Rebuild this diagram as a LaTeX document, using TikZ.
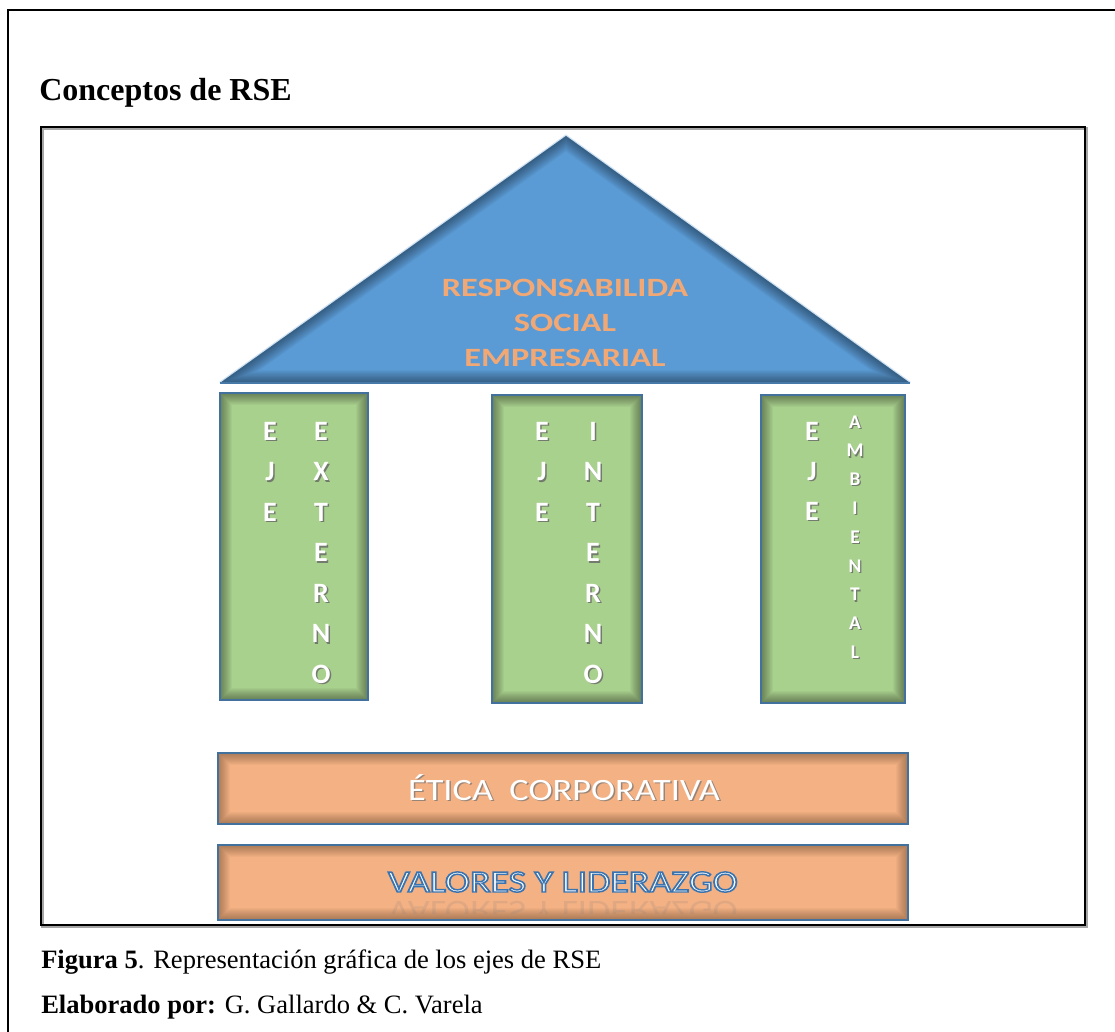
\documentclass[tikz,border=0pt]{standalone}
\usepackage{fontspec}
\usepackage{graphicx}
\setmainfont{Liberation Serif}
\newfontfamily\calfont{Carlito}
\definecolor{triblue}{HTML}{5B9BD5}
\definecolor{edgeblue}{HTML}{41719C}
\definecolor{pgreen}{HTML}{A9D18E}
\definecolor{borange}{HTML}{F4B183}
\definecolor{torange}{HTML}{F2A874}
\definecolor{valblue}{HTML}{3A74B0}
\tikzset{
  frameline/.style={line width=1.6pt, draw=black},
  shapeedge/.style={line width=1.4pt, draw=edgeblue},
  bigletter/.style={text=white, font=\calfont\bfseries\fontsize{21}{24}\selectfont, inner sep=0pt, anchor=base},
  bigshadow/.style={bigletter, text=black!60, opacity=0.8},
  smallletter/.style={text=white, font=\calfont\bfseries\fontsize{14.5}{17}\selectfont, inner sep=0pt, anchor=base},
  smallshadow/.style={smallletter, text=black!60, opacity=0.8},
  rsetext/.style={text=torange, font=\calfont\bfseries\fontsize{19.8}{24}\selectfont, inner sep=0pt, anchor=base},
  bartext/.style={text=white, font=\calfont\fontsize{23.3}{28}\selectfont, inner sep=0pt, anchor=base},
  barshadow/.style={bartext, text=black!55, opacity=0.7},
  serif/.style={inner sep=0pt, anchor=base west, text=black},
}
\begin{document}
\begin{tikzpicture}[x=0.75pt,y=-0.75pt]
\useasboundingbox (0,0) rectangle (1115,1032);
\fill[white] (0,0) rectangle (1115,1032);

% outer frame (open on right and bottom)
\draw[line width=2pt] (1115,10) -- (8,10) -- (8,1032);

% title
\node[serif, font=\bfseries\fontsize{24}{28}\selectfont] (title) at (39,100) {Conceptos de RSE};

% inner frame with light shadow
\draw[line width=1.6pt, draw=black!35] (42.5,128.5) rectangle (1086.5,926.5);
\draw[frameline] (41,127) rectangle (1085,925);

% roof triangle
\draw[line width=2pt, draw=triblue!30!white] (220,383) -- (566,136) -- (910,383);
\fill[triblue] (220,383) -- (566,136) -- (910,383) -- cycle;
\begin{scope}
  \clip (220,383) -- (566,136) -- (910,383) -- cycle;
  \foreach \w in {1,...,12}
    \draw[black, draw opacity=0.035, line width=\w*1.6pt] (220,383) -- (566,136) -- (910,383) -- cycle;
\end{scope}
\draw[line width=1pt, draw=edgeblue!80!triblue] (220,383) -- (910,383);

\node[rsetext] (rse1) at (565,296) {\scalebox{1.3}[1]{RESPONSABILIDA}};
\node[rsetext] (rse2) at (565,331) {\scalebox{1.3}[1]{SOCIAL}};
\node[rsetext] (rse3) at (565,366) {\scalebox{1.3}[1]{EMPRESARIAL}};

% pillars
\foreach \xa/\ya/\xb/\yb in {220/393/368/700, 492/395/642/703, 761/395/905/703} {
  \fill[pgreen] (\xa,\ya) rectangle (\xb,\yb);
  \begin{scope}
    \clip (\xa,\ya) rectangle (\xb,\yb);
    \foreach \w in {1,...,12}
      \draw[black, draw opacity=0.035, line width=\w*1.5pt] (\xa,\ya) rectangle (\xb,\yb);
  \end{scope}
  \draw[shapeedge] (\xa,\ya) rectangle (\xb,\yb);
}

% bars
\foreach \xa/\ya/\xb/\yb in {218/753/908/824, 218/845/908/920} {
  \fill[borange] (\xa,\ya) rectangle (\xb,\yb);
  \begin{scope}
    \clip (\xa,\ya) rectangle (\xb,\yb);
    \foreach \w in {1,...,12}
      \draw[black!70!brown, draw opacity=0.035, line width=\w*1.5pt] (\xa,\ya) rectangle (\xb,\yb);
  \end{scope}
  \draw[shapeedge] (\xa,\ya) rectangle (\xb,\yb);
}

% pillar letters: left pillar
\foreach \l [count=\i] in {E,J,E} {
  \node[bigshadow] (lejes\i) at (271.5,441.5+40.5*\i-40.5) {\l};
  \node[bigletter] (leje\i) at (270,440+40.5*\i-40.5) {\l};
}
\foreach \l [count=\i] in {E,X,T,E,R,N,O} {
  \node[bigshadow] (lexts\i) at (322.5,441.5+40.5*\i-40.5) {\l};
  \node[bigletter] (lext\i) at (321,440+40.5*\i-40.5) {\l};
}
% middle pillar
\foreach \l [count=\i] in {E,J,E} {
  \node[bigshadow] (mejes\i) at (543.5,441.5+40.5*\i-40.5) {\l};
  \node[bigletter] (meje\i) at (542,440+40.5*\i-40.5) {\l};
}
\foreach \l [count=\i] in {I,N,T,E,R,N,O} {
  \node[bigshadow] (mints\i) at (594.5,441.5+40.5*\i-40.5) {\l};
  \node[bigletter] (mint\i) at (593,440+40.5*\i-40.5) {\l};
}
% right pillar
\foreach \l [count=\i] in {E,J,E} {
  \node[bigshadow] (rejes\i) at (813.5,441.5+40*\i-40) {\l};
  \node[bigletter] (reje\i) at (812,440+40*\i-40) {\l};
}
\foreach \l [count=\i] in {A,M,B,I,E,N,T,A,L} {
  \node[smallshadow] (rambs\i) at (856.2,429.2+28.8*\i-28.8) {\l};
  \node[smallletter] (ramb\i) at (855,428+28.8*\i-28.8) {\l};
}

% bar texts
\node[barshadow] (eticas) at (565.5,801.5) {\scalebox{1.17}[1]{ÉTICA\ \ CORPORATIVA}};
\node[bartext] (etica) at (564,800) {\scalebox{1.17}[1]{ÉTICA\ \ CORPORATIVA}};

\begin{scope}
  \clip (219,846) rectangle (907,913);
  \node[bartext, text=black!50, opacity=0.18] (valref) at (563,901) {\scalebox{1.22}[-1]{VALORES Y LIDERAZGO}};
\end{scope}

% captions
\node[serif, font=\fontsize{19.9}{24}\selectfont] (cap1) at (41,968) {\textbf{Figura 5}. Representación gráfica de los ejes de RSE};
\node[serif, font=\fontsize{19.9}{24}\selectfont] (cap2) at (41,1013) {\textbf{Elaborado por:} G. Gallardo \& C. Varela};

% outlined text (fill white, stroke blue)
\node[bartext] (valores) at (563,892) {\special{pdf:literal direct 0.227 0.455 0.690 RG 1.1 w 2 Tr}\scalebox{1.22}[1]{VALORES Y LIDERAZGO}\special{pdf:literal direct 0 Tr}};
\end{tikzpicture}
\end{document}
